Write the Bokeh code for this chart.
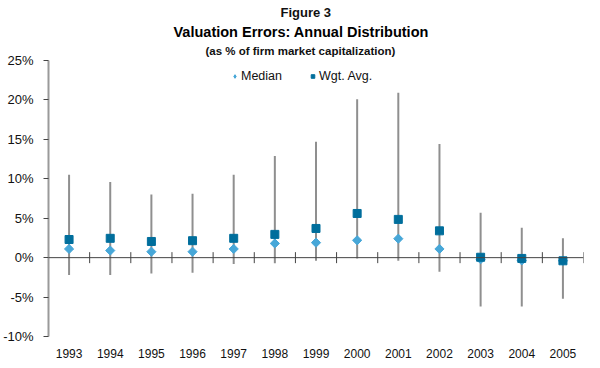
import math
from bokeh.plotting import figure
from bokeh.models import (Range1d, FixedTicker, PrintfTickFormatter, Span, Title,
                          Legend, LegendItem)
from bokeh.embed import file_html
from bokeh.resources import INLINE

years = [1993, 1994, 1995, 1996, 1997, 1998, 1999, 2000, 2001, 2002, 2003, 2004, 2005]
median = [1.1, 0.9, 0.75, 0.75, 1.1, 1.8, 1.9, 2.2, 2.4, 1.1, -0.2, -0.35, -0.4]
wgt_avg = [2.3, 2.45, 2.05, 2.15, 2.45, 2.95, 3.7, 5.6, 4.85, 3.4, 0.05, -0.1, -0.4]
high = [10.5, 9.6, 8.0, 8.1, 10.5, 12.9, 14.7, 20.1, 20.9, 14.4, 5.7, 3.8, 2.45]
low = [-2.2, -2.2, -2.0, -1.9, -0.8, -0.7, -0.4, -0.1, -0.4, -1.8, -6.2, -6.2, -5.2]
y_ticks = [-10, -5, 0, 5, 10, 15, 20, 25]

FONT = "Liberation Sans"
xs = list(range(1, len(years) + 1))
bounds = [i + 0.5 for i in xs]

p = figure(width=584, height=360, output_backend="svg", toolbar_location=None,
           x_range=Range1d(0.5, len(years) + 0.5), y_range=Range1d(-10, 25),
           min_border_left=40, min_border_right=1, min_border_bottom=20, min_border_top=3)
p.outline_line_color = None
p.grid.visible = False
p.background_fill_color = "white"

# titles (first added is nearest to plot); left-aligned with offsets so they
# centre on the page rather than on the plot frame
p.title = None
sub = Title(text="(as % of firm market capitalization)", align="left",
            text_font=FONT, text_font_size="11.5px", text_font_style="bold",
            text_color="#111111", standoff=7, offset=157)
main = Title(text="Valuation Errors: Annual Distribution", align="left",
             text_font=FONT, text_font_size="14.5px", text_font_style="bold",
             text_color="#000000", standoff=0, offset=125)
fig = Title(text="Figure 3", align="left", text_font=FONT, text_font_size="13px",
            text_font_style="bold", text_color="#111111", standoff=4, offset=232)
p.add_layout(sub, "above")
p.add_layout(main, "above")
p.add_layout(fig, "above")

# x axis: labels only at bottom
xa = p.xaxis[0]
xa.ticker = FixedTicker(ticks=xs)
xa.major_label_overrides = {x: str(y) for x, y in zip(xs, years)}
xa.axis_line_color = None
xa.major_tick_line_color = None
xa.minor_tick_line_color = None
xa.major_label_standoff = 6
xa.major_label_text_font = FONT
xa.major_label_text_font_size = "12px"
xa.major_label_text_color = "#111111"

ya = p.yaxis[0]
ya.ticker = FixedTicker(ticks=y_ticks)
ya.formatter = PrintfTickFormatter(format="%d%%")
ya.axis_line_color = "#9a9a9a"
ya.axis_line_width = 2
ya.major_tick_line_color = "#444444"
ya.major_tick_out = 5
ya.major_tick_in = 0
ya.minor_tick_line_color = None
ya.major_label_standoff = 10
ya.major_label_text_font = FONT
ya.major_label_text_font_size = "13px"
ya.major_label_text_color = "#111111"

# zero line with category boundary ticks
p.add_layout(Span(location=0, dimension="width", line_color="#444444", line_width=1))
p.scatter(bounds, [0] * len(bounds), marker="dash", angle=math.pi / 2, size=11,
          line_color="#444444", line_width=1)

# whiskers
p.segment(x0=xs, y0=low, x1=xs, y1=high, line_color="#8f8f8f", line_width=2)

p.scatter(xs, median, marker="square", angle=math.pi / 4, size=6.5,
          fill_color="#47a7d8", line_color="#47a7d8", line_width=1)
r_wgt = p.scatter(xs, wgt_avg, marker="square", size=8,
                  fill_color="#006e9c", line_color="#006e9c", line_width=1)
# legend proxy for the diamond marker
r_med_leg = p.scatter([float("nan")], [float("nan")], marker="diamond", size=11,
                      fill_color="#47a7d8", line_color="#47a7d8")

legend = Legend(items=[LegendItem(label="Median", renderers=[r_med_leg]),
                       LegendItem(label="Wgt. Avg.", renderers=[r_wgt])],
                orientation="horizontal", location=(182, 253),
                label_text_font=FONT, label_text_font_size="12.5px",
                label_text_color="#111111", border_line_color=None,
                background_fill_alpha=0, glyph_width=9, glyph_height=10,
                label_standoff=2, spacing=26, padding=2, margin=0)
p.add_layout(legend, "center")

open("out.html", "w").write(file_html(p, INLINE))
